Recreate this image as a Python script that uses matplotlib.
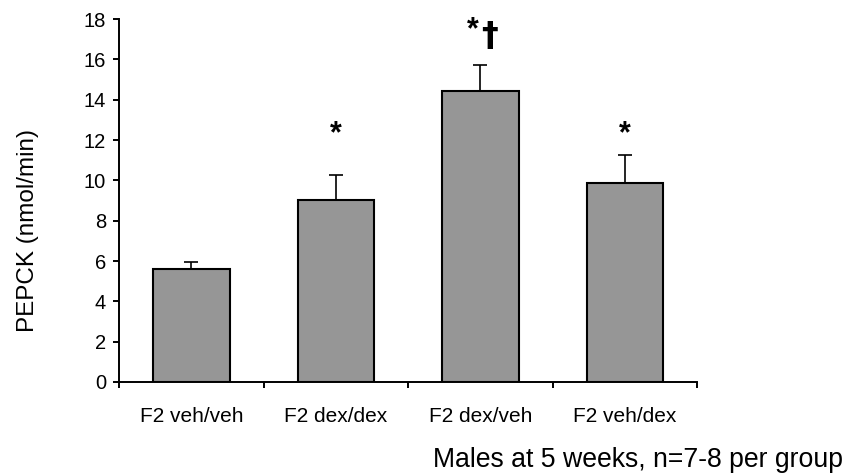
import matplotlib.pyplot as plt
import numpy as np

groups = ["F2 veh/veh", "F2 dex/dex", "F2 dex/veh", "F2 veh/dex"]
pepck = [5.6, 9.05, 14.43, 9.85]
sem = [0.37, 1.22, 1.29, 1.39]
stars = ["", "*", "*", "*"]
daggers = ["", "", "\u2020", ""]
star_y = [0, 12.3, 17.45, 12.3]

plt.rcParams['font.family'] = ['Liberation Sans', 'DejaVu Sans']

fig = plt.figure(figsize=(8.46, 4.76), dpi=100)
ax = fig.add_axes([0.1407, 0.1975, 0.6833, 0.7625])

x = np.arange(len(groups))
ax.bar(x, pepck, width=0.53, color="#969696", edgecolor="black", linewidth=1.5, zorder=2)
ax.errorbar(x, pepck, yerr=[np.zeros(len(sem)), sem], fmt="none", ecolor="black",
            elinewidth=1.2, capsize=4.7, capthick=1.2, zorder=1)

# significance marks
for i in range(len(groups)):
    if not stars[i]:
        continue
    dx = -0.055 if daggers[i] else 0
    ax.text(x[i] + dx, star_y[i], stars[i], ha="center", va="center", fontsize=22,
            fontweight="bold")
    if daggers[i]:
        ax.text(x[i] + 0.062, star_y[i] - 0.33, daggers[i], ha="center", va="center",
                fontsize=24, fontweight="bold", family=["DejaVu Sans"])

ax.set_xlim(-0.5, len(groups) - 0.5)
ax.set_ylim(0, 18)
ax.set_yticks(np.arange(0, 19, 2))
ax.set_xticks(np.arange(-0.5, len(groups), 1))
ax.set_xticklabels([])
ax.set_xticks(x, minor=True)
ax.set_xticklabels(groups, minor=True, fontsize=15)
ax.tick_params(axis="x", which="minor", length=0, pad=18)
ax.tick_params(axis="x", which="major", direction="out", length=4.3, width=1.4)
ax.tick_params(axis="y", direction="out", length=4.3, width=1.4, labelsize=14.5, pad=5)
ax.spines["top"].set_visible(False)
ax.spines["right"].set_visible(False)
ax.spines["left"].set_linewidth(1.4)
ax.spines["bottom"].set_linewidth(1.4)

fig.text(28 / 846, 1 - 230 / 476, "PEPCK (nmol/min)", rotation=90, ha="center", va="center",
         fontsize=17.5)
fig.text(0.997, 0.033, "Males at 5 weeks, n=7-8 per group", ha="right", va="center", fontsize=19.2)

fig.savefig("out.png", dpi=100)
